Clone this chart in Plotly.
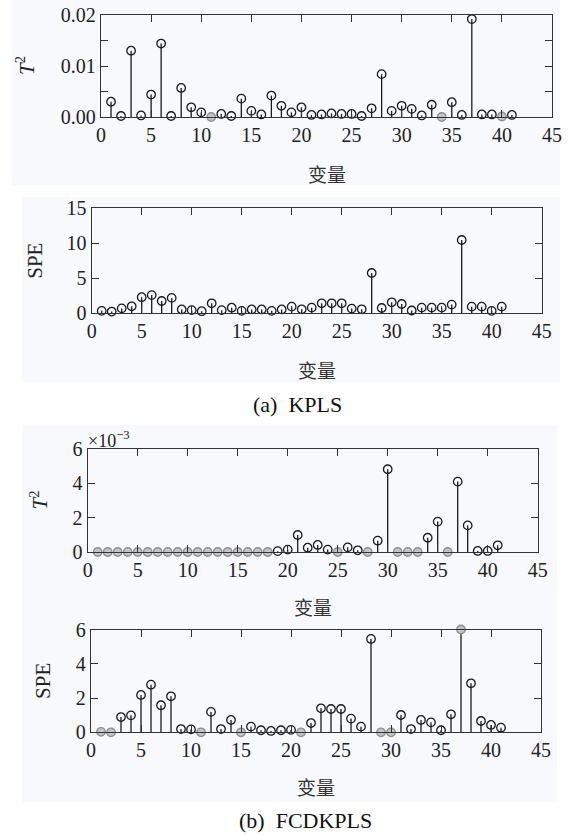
import plotly.graph_objects as go

W, H = 569, 836

variables = list(range(1, 42))

t2_kpls = [0.0030, 0.0002, 0.0130, 0.0003, 0.0044, 0.0144, 0.0002, 0.0057, 0.0019, 0.0009,
           0.0000, 0.0006, 0.0002, 0.0036, 0.0012, 0.0005, 0.0042, 0.0022, 0.0009, 0.0019,
           0.0004, 0.0005, 0.0007, 0.0006, 0.0006, 0.0002, 0.0017, 0.0084, 0.0012, 0.0022,
           0.0016, 0.0003, 0.0024, 0.0000, 0.0029, 0.0004, 0.0192, 0.0005, 0.0005, 0.0001,
           0.0004]

spe_kpls = [0.35, 0.25, 0.70, 1.00, 2.30, 2.60, 1.76, 2.20, 0.55, 0.45,
            0.30, 1.43, 0.45, 0.80, 0.35, 0.55, 0.55, 0.35, 0.55, 0.95,
            0.57, 0.81, 1.43, 1.43, 1.43, 0.67, 0.57, 5.76, 0.76, 1.57,
            1.33, 0.40, 0.81, 0.81, 0.81, 1.24, 10.47, 0.95, 0.95, 0.35,
            0.95]

# units of 1e-3
t2_fcd = [0.0, 0.0, 0.0, 0.0, 0.0, 0.0, 0.0, 0.0, 0.0, 0.0,
          0.0, 0.0, 0.0, 0.0, 0.0, 0.0, 0.0, 0.0, 0.05, 0.14,
          0.99, 0.25, 0.41, 0.14, 0.0, 0.27, 0.10, 0.0, 0.66, 4.82,
          0.0, 0.0, 0.0, 0.83, 1.77, 0.0, 4.10, 1.55, 0.06, 0.06,
          0.39]

spe_fcd = [0.03, 0.0, 0.89, 0.99, 2.18, 2.78, 1.58, 2.10, 0.19, 0.17,
           0.0, 1.19, 0.19, 0.72, 0.0, 0.33, 0.12, 0.08, 0.12, 0.14,
           0.0, 0.54, 1.40, 1.36, 1.36, 0.80, 0.33, 5.45, 0.0, 0.0,
           1.01, 0.19, 0.72, 0.58, 0.12, 1.05, 6.07, 2.86, 0.66, 0.43,
           0.27]

x_ticks = [0, 5, 10, 15, 20, 25, 30, 35, 40, 45]
x_title = "变量"
title_a = "(a)  KPLS"
title_b = "(b)  FCDKPLS"

SERIF = "Liberation Serif, Times New Roman, serif"
CJK = "Noto Sans CJK SC"


def px_x(p):
    return p / W


def px_y(p):
    return 1 - p / H


# panels: (values, ymax, yticks, yticktext, minor dtick, ylabel, x0, x1, ytop, ybot, ylabel_x, xtitle_y)
panels = [
    (t2_kpls, 0.02, [0, 0.01, 0.02], ["0.00", "0.01", "0.02"], 0.005,
     "<i>T</i><sup>2</sup>", 101, 552, 15, 117, 25, 173),
    (spe_kpls, 15, [0, 5, 10, 15], ["0", "5", "10", "15"], None,
     "SPE", 91.7, 541.7, 208.3, 313.3, 35, 369),
    (t2_fcd, 6, [0, 2, 4, 6], ["0", "2", "4", "6"], None,
     "<i>T</i><sup>2</sup>", 87.7, 537.7, 449, 552, 39, 606),
    (spe_fcd, 6, [0, 2, 4, 6], ["0", "2", "4", "6"], None,
     "SPE", 91, 541, 629.5, 732.3, 43, 786),
]

fig = go.Figure()
layout = dict(
    width=W, height=H, margin=dict(l=0, r=0, t=0, b=0, pad=0),
    paper_bgcolor="white", plot_bgcolor="rgba(0,0,0,0)", showlegend=False,
)
annotations = []
shapes = []

# faint backgrounds of the scanned panels
for (x0, y0, x1, y1) in [(12, 0, 560, 185), (22, 197, 560, 382), (22, 425, 557, 802)]:
    shapes.append(dict(type="rect", xref="paper", yref="paper", layer="below",
                       x0=px_x(x0), x1=px_x(x1), y0=px_y(y1), y1=px_y(y0),
                       fillcolor="#f7f9fc", line=dict(width=0)))

for i, (vals, ymax, ytv, ytt, mdt, ylab, x0, x1, yt, yb, ylx, xty) in enumerate(panels):
    n = "" if i == 0 else str(i + 1)
    xa, ya = "x" + n, "y" + n
    sx, sy = [], []
    for v, val in zip(variables, vals):
        sx += [v, v, None]
        sy += [0, min(val, ymax), None]
    fig.add_trace(go.Scatter(x=sx, y=sy, mode="lines", xaxis=xa, yaxis=ya,
                             line=dict(color="#1a1a1a", width=1.3), hoverinfo="skip"))
    cols = ["#8f8f8f" if (val <= 0.006 * ymax or val >= ymax) else "#1a1a1a" for val in vals]
    fills = ["#c4c4c4" if c == "#8f8f8f" else "rgba(0,0,0,0)" for c in cols]
    fig.add_trace(go.Scatter(x=variables, y=[min(v, ymax) for v in vals], mode="markers",
                             xaxis=xa, yaxis=ya, cliponaxis=False,
                             marker=dict(symbol="circle", size=8.5, color=fills,
                                         line=dict(color=cols, width=1.3))))
    axcommon = dict(showline=True, linecolor="#333333", linewidth=1.3, mirror="ticks",
                    ticks="inside", ticklen=7, tickwidth=1.3, tickcolor="#333333",
                    showgrid=False, zeroline=False, automargin=False,
                    tickfont=dict(family=SERIF, size=20, color="#222222"))
    layout["xaxis" + n] = dict(axcommon, domain=[px_x(x0), px_x(x1)], range=[0, 45],
                               anchor=ya, tickmode="array", tickvals=x_ticks,
                               ticktext=[str(t) for t in x_ticks])
    yax = dict(axcommon, domain=[px_y(yb), px_y(yt)], range=[0, ymax],
               anchor=xa, tickmode="array", tickvals=ytv, ticktext=ytt)
    if mdt is not None:
        yax["minor"] = dict(dtick=mdt, tick0=0, ticks="inside", ticklen=7, tickwidth=1.3,
                            tickcolor="#333333", showgrid=False)
    layout["yaxis" + n] = yax
    annotations.append(dict(text=ylab, x=px_x(ylx), y=px_y((yt + yb) / 2), xref="paper",
                            yref="paper", showarrow=False, textangle=-90,
                            font=dict(family=SERIF, size=21, color="#222222"),
                            xanchor="center", yanchor="middle"))
    annotations.append(dict(text=x_title, x=px_x((x0 + x1) / 2), y=px_y(xty), xref="paper",
                            yref="paper", showarrow=False,
                            font=dict(family=CJK, size=19, color="#333333"),
                            xanchor="center", yanchor="middle"))

annotations.append(dict(text="×10<sup>−3</sup>", x=px_x(86), y=px_y(439), xref="paper",
                        yref="paper", showarrow=False, xanchor="left", yanchor="middle",
                        font=dict(family=SERIF, size=18, color="#222222")))
annotations.append(dict(text=title_a, x=px_x(297), y=px_y(404), xref="paper", yref="paper",
                        xanchor="center", yanchor="middle", showarrow=False,
                        font=dict(family=SERIF, size=22, color="#111111")))
annotations.append(dict(text=title_b, x=px_x(305), y=px_y(820), xref="paper", yref="paper",
                        xanchor="center", yanchor="middle", showarrow=False,
                        font=dict(family=SERIF, size=22, color="#111111")))

layout["annotations"] = annotations
layout["shapes"] = shapes
fig.update_layout(**layout)
fig.write_html("out.html", config={"displayModeBar": False},
               post_script="document.body.style.margin='0';document.body.style.overflow='hidden';")
